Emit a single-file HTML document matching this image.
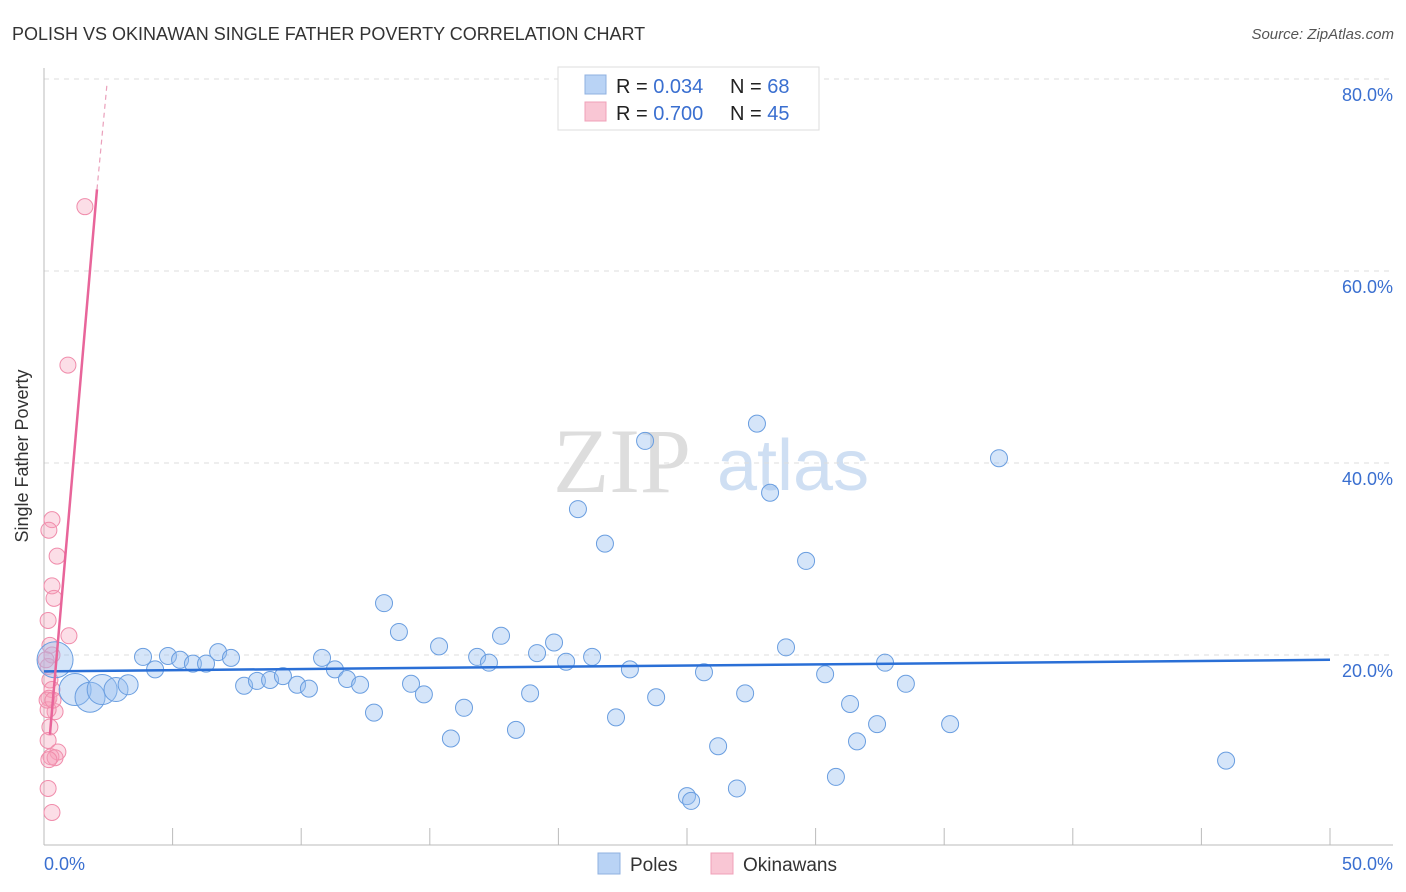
<!DOCTYPE html>
<html><head><meta charset="utf-8"><style>
body{margin:0;background:#fff;font-family:"Liberation Sans",sans-serif;}
svg{display:block}
</style></head><body>
<svg width="1406" height="892" xmlns="http://www.w3.org/2000/svg">
<text x="12" y="40" font-size="18" fill="#333">POLISH VS OKINAWAN SINGLE FATHER POVERTY CORRELATION CHART</text>
<text x="1394" y="39" font-size="15" fill="#555" text-anchor="end" font-style="italic">Source: ZipAtlas.com</text>
<g>
<text x="553" y="492" font-size="92" font-family="Liberation Serif,serif" fill="#ddd">ZIP</text>
<text x="717" y="490" font-size="72" fill="#cfdff3">atlas</text>
</g>
<g id="grid"></g>
<g id="axes"></g>
<g id="marks"></g>
<text x="28" y="456" font-size="18" fill="#333" text-anchor="middle" transform="rotate(-90 28 456)">Single Father Poverty</text>
<g>
<rect x="558" y="67" width="261" height="63" fill="#fff" stroke="#ddd"/>
<rect x="585" y="75" width="21" height="19" fill="#b9d3f5" stroke="#8fb0e0"/>
<rect x="585" y="102" width="21" height="19" fill="#f9c6d4" stroke="#f0a0b8"/>
<text x="616" y="93" font-size="20" fill="#222">R = <tspan fill="#3a6fd0">0.034</tspan><tspan x="730">N = </tspan><tspan fill="#3a6fd0">68</tspan></text>
<text x="616" y="120" font-size="20" fill="#222">R = <tspan fill="#3a6fd0">0.700</tspan><tspan x="730">N = </tspan><tspan fill="#3a6fd0">45</tspan></text>
</g>
<g>
<rect x="598" y="853" width="22" height="21" fill="#b9d3f5" stroke="#8fb0e0"/>
<text x="630" y="871" font-size="19" fill="#333">Poles</text>
<rect x="711" y="853" width="22" height="21" fill="#f9c6d4" stroke="#f0a0b8"/>
<text x="743" y="871" font-size="19" fill="#333">Okinawans</text>
</g>
</svg>
<script>
const yTicks=[20,40,60,80];
const yTickLabels=["20.0%","40.0%","60.0%","80.0%"];
const xTickVals=[0,5,10,15,20,25,30,35,40,45,50];
const polesX=[0.43,1.21,1.79,2.26,2.80,3.27,3.85,4.32,4.82,5.29,5.79,6.30,6.77,7.27,7.78,8.28,8.79,9.29,9.84,10.30,10.81,11.31,11.78,12.29,12.83,13.22,13.80,14.27,14.77,15.36,15.82,16.33,16.84,17.30,17.77,18.35,18.90,19.17,19.83,20.30,20.76,21.31,21.81,22.24,22.78,23.37,23.80,25.00,25.16,25.66,26.21,26.94,27.26,27.72,28.23,28.85,29.63,30.37,30.79,31.34,31.61,32.39,32.70,33.51,35.23,37.13,45.96];
const polesY=[19.5,16.4,15.6,16.4,16.4,16.9,19.8,18.5,19.9,19.5,19.1,19.1,20.3,19.7,16.8,17.3,17.4,17.8,16.9,16.5,19.7,18.5,17.5,16.9,14.0,25.4,22.4,17.0,15.9,20.9,11.3,14.5,19.8,19.2,22.0,12.2,16.0,20.2,21.3,19.3,35.2,19.8,31.6,13.5,18.5,42.3,15.6,5.3,4.8,18.2,10.5,6.1,16.0,44.1,36.9,20.8,29.8,18.0,7.3,14.9,11.0,12.8,19.2,17.0,12.8,40.5,9.0];
const polesSize=[18,16,15,15,12,10];
const okiX=[0.31,0.19,0.51,0.31,0.39,0.16,0.97,0.23,0.31,0.16,0.23,0.31,0.19,0.43,0.16,0.23,0.16,0.54,0.27,0.43,0.19,0.16,0.31,0.93,1.59,0.08,0.12,0.35];
const okiY=[34.1,33.0,30.3,27.2,25.9,23.6,22.0,21.0,20.0,18.8,17.4,16.4,15.5,14.1,14.3,12.5,11.1,9.9,9.4,9.3,9.1,6.1,3.6,50.2,66.7,19.5,15.3,15.3];
const polesTrend=[[0,18.3],[50,19.5]];
const okiTrend=[[0.23,11.7],[2.06,68.5]];
const okiTrendExt=[[2.06,68.5],[2.45,79.5]];
const NS="http://www.w3.org/2000/svg";
const X=v=>44+v/50*1286, Y=v=>847-v/80*768;
function mk(tag,at,parent){const e=document.createElementNS(NS,tag);for(const k in at)e.setAttribute(k,at[k]);document.getElementById(parent).appendChild(e);return e;}
yTicks.forEach((t,i)=>{
 const l=mk('line',{x1:44,x2:1393,y1:Y(t),y2:Y(t),stroke:'#ddd','stroke-dasharray':'5,5'},'grid');
 
 
 const tx=mk('text',{x:1393,y:Y(t)+22,'font-size':18,fill:'#3a6fd0','text-anchor':'end'},'grid');
 tx.textContent=yTickLabels[i];
 
 
});
const ax=mk('line',{x1:44,x2:44,y1:68,y2:845,stroke:'#bbb'},'axes');


const bx=mk('line',{x1:44,x2:1393,y1:845,y2:845,stroke:'#bbb'},'axes');


xTickVals.forEach(v=>{const t=mk('line',{x1:X(v),x2:X(v),y1:828,y2:845,stroke:'#bbb'},'axes');
 
 });
const x0=mk('text',{x:44,y:870,'font-size':18,fill:'#3a6fd0'},'axes');x0.textContent='0.0%';


const x1=mk('text',{x:1393,y:870,'font-size':18,fill:'#3a6fd0','text-anchor':'end'},'axes');x1.textContent='50.0%';


okiX.forEach((v,i)=>{const c=mk('circle',{cx:X(v),cy:Y(okiY[i]),r:8,fill:'rgba(245,160,185,0.35)',stroke:'#f08cab','stroke-width':1},'marks');
 
 });
polesX.forEach((v,i)=>{const c=mk('circle',{cx:X(v),cy:Y(polesY[i]),r:polesSize[i]||8.5,fill:'rgba(150,190,240,0.4)',stroke:'#6a9ee0','stroke-width':1},'marks');
 
 });
const pl=mk('line',{x1:X(polesTrend[0][0]),y1:Y(polesTrend[0][1]),x2:X(polesTrend[1][0]),y2:Y(polesTrend[1][1]),stroke:'#2a6fd6','stroke-width':2.5},'marks');


const ol=mk('line',{x1:X(okiTrend[0][0]),y1:Y(okiTrend[0][1]),x2:X(okiTrend[1][0]),y2:Y(okiTrend[1][1]),stroke:'#e8659a','stroke-width':2.5},'marks');


const oe=mk('line',{x1:X(okiTrendExt[0][0]),y1:Y(okiTrendExt[0][1]),x2:X(okiTrendExt[1][0]),y2:Y(okiTrendExt[1][1]),stroke:'#eaa0bb','stroke-width':1.2,'stroke-dasharray':'5,4'},'marks');


</script>
</body></html>
